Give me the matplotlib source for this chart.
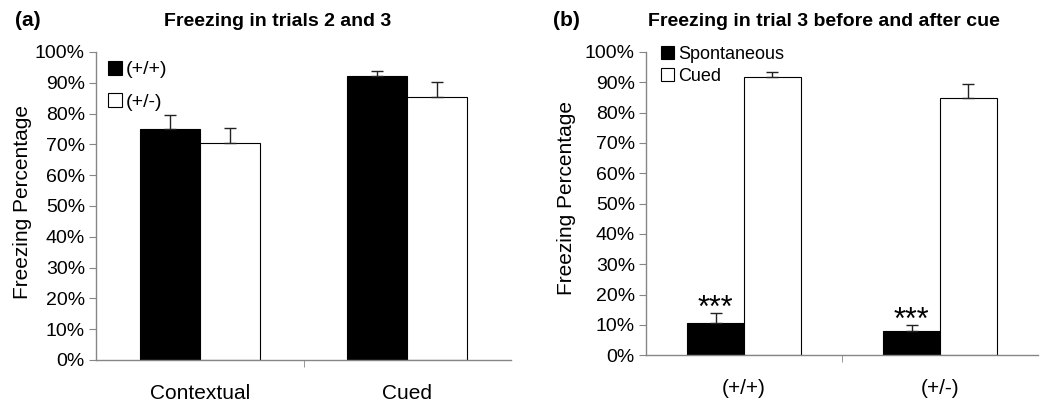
import matplotlib
matplotlib.use("Agg")
import matplotlib.pyplot as plt
import numpy as np
from matplotlib.ticker import PercentFormatter, FixedLocator

plt.rcParams['font.family'] = ['Liberation Sans', 'DejaVu Sans']

# Panel (a)
cats_a = ["Contextual", "Cued"]
wt_a = [0.75, 0.922]
wt_a_err = [0.045, 0.017]
het_a = [0.703, 0.855]
het_a_err = [0.051, 0.046]

# Panel (b)
cats_b = ["(+/+)", "(+/-)"]
spont_b = [0.108, 0.079]
spont_b_err = [0.031, 0.020]
cued_b = [0.917, 0.849]
cued_b_err = [0.016, 0.047]
stars_b = ["***", "***"]

AX_GREY = "#868686"
W = 0.289
YFS = 14
XFS = 15

fig = plt.figure(figsize=(10.5, 4.03), dpi=100)
ax1 = fig.add_axes([96/1050, 1-360/403, 415/1050, (360-52)/403])
ax2 = fig.add_axes([646/1050, 1-355.3/403, 392/1050, (355.3-52)/403])


def style(ax, cats):
    ax.set_xlim(-0.5, 1.5)
    ax.set_ylim(0, 1.0)
    ax.set_yticks(np.arange(0, 1.01, 0.1))
    ax.yaxis.set_major_formatter(PercentFormatter(1.0, decimals=0))
    ax.set_xticks(range(len(cats)))
    ax.set_xticklabels(cats, fontsize=XFS)
    ax.xaxis.set_minor_locator(FixedLocator([0.5]))
    ax.tick_params(axis='x', which='major', length=0, pad=17)
    ax.tick_params(axis='x', which='minor', length=5, color=AX_GREY, direction='out')
    ax.tick_params(axis='y', length=5, color=AX_GREY, direction='out', labelsize=YFS, pad=3)
    for s in ['top', 'right']:
        ax.spines[s].set_visible(False)
    for s in ['left', 'bottom']:
        ax.spines[s].set_color(AX_GREY)
        ax.spines[s].set_linewidth(1.0)


ekw = dict(ecolor='#222222', elinewidth=1.0, capsize=4, capthick=1.0)
x = np.arange(2)

style(ax1, cats_a)
ax1.bar(x - W/2, wt_a, W, color='black', edgecolor='black', linewidth=0.8,
        yerr=[np.zeros(2), wt_a_err], error_kw=ekw, label='(+/+)', zorder=2)
ax1.bar(x + W/2, het_a, W, color='white', edgecolor='black', linewidth=0.8,
        yerr=[np.zeros(2), het_a_err], error_kw=ekw, label='(+/-)', zorder=2)
leg1 = ax1.legend(loc='upper left', bbox_to_anchor=(0.0, 1.01), frameon=False,
                  fontsize=14, handlelength=0.75, handleheight=0.75, handletextpad=0.2,
                  labelspacing=0.75, borderaxespad=0.2)

style(ax2, cats_b)
ax2.bar(x - W/2, spont_b, W, color='black', edgecolor='black', linewidth=0.8,
        yerr=[np.zeros(2), spont_b_err], error_kw=ekw, label='Spontaneous', zorder=2)
ax2.bar(x + W/2, cued_b, W, color='white', edgecolor='black', linewidth=0.8,
        yerr=[np.zeros(2), cued_b_err], error_kw=ekw, label='Cued', zorder=2)
for xi, v, e, s in zip(x, spont_b, spont_b_err, stars_b):
    ax2.text(xi - W/2, v + e - 0.012, s, ha='center', va='baseline', fontsize=22)
leg2 = ax2.legend(loc='upper left', bbox_to_anchor=(0.01, 1.055), frameon=False,
                  fontsize=13, handlelength=0.75, handleheight=0.75, handletextpad=0.2,
                  labelspacing=0.25, borderaxespad=0.2)

fig.text(23/1050, 1-202/403, "Freezing Percentage", fontsize=15, rotation=90,
         va='center', ha='center')
fig.text(567/1050, 1-198/403, "Freezing Percentage", fontsize=15, rotation=90,
         va='center', ha='center')

fig.text(15/1050, 1-21/403, "(a)", fontsize=15, fontweight='bold', va='center', ha='left')
fig.text(278/1050, 1-21/403, "Freezing in trials 2 and 3", fontsize=14, fontweight='bold',
         va='center', ha='center')
fig.text(553/1050, 1-21/403, "(b)", fontsize=15, fontweight='bold', va='center', ha='left')
fig.text(824/1050, 1-21/403, "Freezing in trial 3 before and after cue", fontsize=14,
         fontweight='bold', va='center', ha='center')

fig.savefig("out.png", dpi=100)
